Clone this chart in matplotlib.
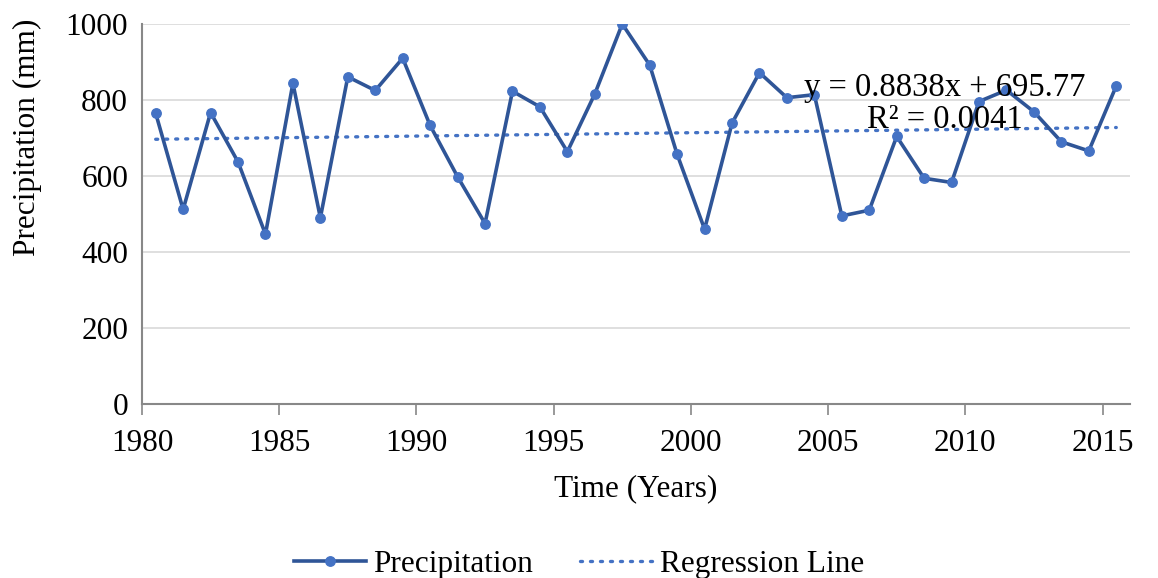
import matplotlib.pyplot as plt

# --- Annual precipitation series ---
years = list(range(1980, 2016))
precip = [765, 512, 767, 637, 447, 844, 490, 861, 825, 910,
          733, 598, 475, 823, 782, 664, 816, 1000, 892, 657,
          460, 739, 872, 806, 814, 495, 510, 704, 594, 583,
          796, 826, 769, 690, 666, 837]

# --- Linear trend (x = 1..n) ---
slope = 0.8838
intercept = 695.77
r_squared = 0.0041

tick_years = [1980, 1985, 1990, 1995, 2000, 2005, 2010, 2015]
y_ticks = [0, 200, 400, 600, 800, 1000]

plt.rcParams['font.family'] = ['Liberation Serif', 'DejaVu Serif']
fs = 22.5

fig = plt.figure(figsize=(11.58, 5.78), dpi=100)
ax = fig.add_axes([0.1226, 0.301, 0.8532, 0.6575])

# points sit in the middle of each year slot
x = [yr + 0.5 for yr in years]
trend = [slope * (i + 1) + intercept for i in range(len(years))]

line_p, = ax.plot(x, precip, color='#2F5597', linewidth=2.6, marker='o',
                  markersize=6.8, markerfacecolor='#4472C4', markeredgecolor='#4472C4',
                  label='Precipitation', zorder=3)
line_r, = ax.plot(x, trend, color='#4472C4', linewidth=2.4, linestyle=(0, (0.6, 2.4)),
                  dash_capstyle='round', label='Regression Line', zorder=2)

ax.set_xlim(1980, 2016)
ax.set_ylim(0, 1000)
ax.set_xticks(tick_years)
ax.set_yticks(y_ticks)
ax.tick_params(axis='both', labelsize=fs)
ax.tick_params(axis='x', length=8, width=1.2, color='#888888', pad=10)
ax.tick_params(axis='y', length=0, pad=10)

ax.grid(axis='y', color='#D9D9D9', linewidth=1.2)
ax.set_axisbelow(True)
for side in ['top', 'right']:
    ax.spines[side].set_visible(False)
for side in ['left', 'bottom']:
    ax.spines[side].set_color('#888888')
    ax.spines[side].set_linewidth(1.5)

ax.set_xlabel('Time (Years)', fontsize=fs, labelpad=12)
fig.text(0.024, 0.762, 'Precipitation (mm)', fontsize=fs, rotation=90,
         ha='center', va='center')

ax.text(0.813, 0.79, f'y = {slope}x + {intercept}\nR² = {r_squared}',
        transform=ax.transAxes, fontsize=23.5, ha='center', va='center',
        linespacing=1.1, zorder=4)

fig.legend(handles=[line_p, line_r], loc='center', bbox_to_anchor=(0.5, 0.024),
           ncol=2, frameon=False, fontsize=fs, handlelength=2.3,
           handletextpad=0.25, columnspacing=1.5)

fig.savefig('out.png', dpi=100)
